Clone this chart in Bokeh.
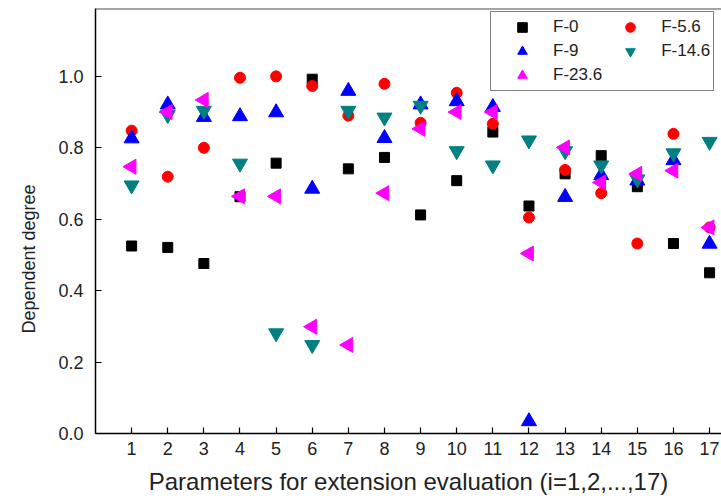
import math
from bokeh.plotting import figure
from bokeh.models import (Legend, LegendItem, FixedTicker, NumeralTickFormatter,
                          Span, Range1d, Title)
from bokeh.embed import file_html
from bokeh.resources import INLINE

params = list(range(1, 18))
f0 = [0.525, 0.521, 0.476, 0.663, 0.757, 0.992, 0.741, 0.773, 0.612, 0.708,
      0.844, 0.637, 0.727, 0.778, 0.691, 0.532, 0.450]
f5_6 = [0.848, 0.719, 0.800, 0.996, 1.000, 0.973, 0.890, 0.979, 0.870, 0.954,
        0.867, 0.605, 0.738, 0.673, 0.532, 0.839, 0.577]
f9 = [0.826, 0.921, 0.886, 0.888, 0.899, 0.685, 0.959, 0.827, 0.921, 0.930,
      0.914, 0.034, 0.662, 0.723, 0.708, 0.765, 0.531]
f14_6 = [0.695, 0.892, 0.904, 0.756, 0.281, 0.248, 0.904, 0.885, 0.918, 0.791,
         0.751, 0.821, 0.791, 0.751, 0.712, 0.785, 0.817]
f23_6 = [0.747, 0.900, 0.934, 0.664, 0.664, 0.299, 0.248, 0.673, 0.853, 0.900,
         0.900, 0.504, 0.801, 0.703, 0.727, 0.736, 0.577]
series_names = ["F-0", "F-5.6", "F-9", "F-14.6", "F-23.6"]
y_ticks = [0.0, 0.2, 0.4, 0.6, 0.8, 1.0]

FONT = "Liberation Sans"

p = figure(width=721, height=504, x_range=Range1d(0, 17.33), y_range=Range1d(0, 1.19),
           output_backend="svg", toolbar_location=None,
           min_border_left=94, min_border_right=0, min_border_top=8, min_border_bottom=71)
p.outline_line_color = None
p.grid.visible = False
p.background_fill_color = "white"

for ax in (p.xaxis[0], p.yaxis[0]):
    ax.axis_line_color = "black"
    ax.axis_line_width = 1.5
    ax.major_tick_line_color = "black"
    ax.major_tick_line_width = 1.2
    ax.major_tick_in = 6
    ax.major_tick_out = 0
    ax.minor_tick_line_color = None
    ax.major_label_text_font = FONT
    ax.major_label_text_font_size = "18px"
    ax.major_label_text_color = "#222222"
    ax.axis_label_text_font = FONT
    ax.axis_label_text_font_style = "normal"
    ax.axis_label_text_color = "#222222"

p.xaxis[0].ticker = FixedTicker(ticks=params)
p.xaxis[0].major_label_standoff = 8
p.xaxis[0].axis_label = "Parameters for extension evaluation (i=1,2,...,17)"
p.xaxis[0].axis_label_text_font_size = "24px"
p.xaxis[0].axis_label_standoff = 10

p.yaxis[0].ticker = FixedTicker(ticks=y_ticks)
p.yaxis[0].formatter = NumeralTickFormatter(format="0.0")
p.yaxis[0].major_label_standoff = 12

p.add_layout(Title(text="Dependent degree", align="left", offset=100,
                   text_font=FONT, text_font_size="18px", text_font_style="normal",
                   text_color="#222222", standoff=33), "left")

p.add_layout(Span(location=1.19, dimension="width", line_color="#4d4d4d", line_width=2))

r0 = p.scatter(params, f0, marker="square", size=10, fill_color="black", line_color="black")
r1 = p.scatter(params, f5_6, marker="circle", size=11, fill_color="red", line_color="red")
r2 = p.scatter(params, f9, marker="triangle", size=15, fill_color="blue", line_color="blue")
r3 = p.scatter(params, f14_6, marker="inverted_triangle", size=15, fill_color="#008080", line_color="#008080")
r4 = p.scatter(params, f23_6, marker="triangle", size=15, angle=math.pi / 2,
               fill_color="magenta", line_color="magenta")

legend = Legend(items=[LegendItem(label=n, renderers=[r]) for n, r in
                       zip(series_names, [r0, r1, r2, r3, r4])],
                location=(395, 342), orientation="horizontal", ncols=2,
                label_text_font=FONT, label_text_font_size="17px",
                label_text_color="#222222",
                glyph_width=56, glyph_height=24, label_height=24, label_standoff=3,
                padding=3, spacing=0, margin=0,
                border_line_color="black", border_line_width=1.5,
                background_fill_color="white", background_fill_alpha=1.0)
p.add_layout(legend)

open("out.html", "w").write(file_html(p, INLINE))
